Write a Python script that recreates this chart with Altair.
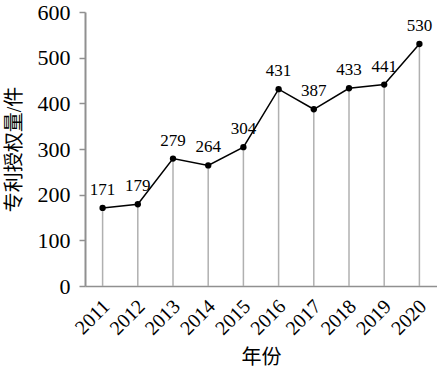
import altair as alt
import pandas as pd

years = ["2011", "2012", "2013", "2014", "2015", "2016", "2017", "2018", "2019", "2020"]
values = [171, 179, 279, 264, 304, 431, 387, 433, 441, 530]

df = pd.DataFrame({"year": years, "value": values})

FONT = "Liberation Serif, Times New Roman, Noto Sans CJK SC"

x = alt.X("year:N", sort=years, title="年份",
          scale=alt.Scale(paddingInner=0, paddingOuter=0),
          axis=alt.Axis(labelAngle=-45, labelAlign="right", labelBaseline="middle",
                        labelFontSize=20, labelFont=FONT, labelColor="black",
                        labelPadding=17, labelOffset=4, ticks=False, domainColor="#909090",
                        domainWidth=1.5, titleFont=FONT, titleFontSize=20,
                        titleFontWeight="normal", titleColor="black", titlePadding=9))
y = alt.Y("value:Q", title="专利授权量/件",
          scale=alt.Scale(domain=[0, 600]),
          axis=alt.Axis(values=[0, 100, 200, 300, 400, 500, 600], grid=False,
                        labelFontSize=22, labelFont=FONT, labelColor="black",
                        labelPadding=9, tickSize=6, tickColor="#909090", tickWidth=1.5,
                        domainColor="#909090", domainWidth=2,
                        titleFont=FONT, titleFontSize=20, titleFontWeight="normal",
                        titleColor="black", titlePadding=13))

base = alt.Chart(df)

rules = base.mark_rule(color="#b0b0b0", strokeWidth=1.5).encode(
    x=x, y=alt.Y("value:Q", scale=alt.Scale(domain=[0, 600])), y2=alt.datum(0))
line = base.mark_line(color="black", strokeWidth=1.5).encode(x=x, y=y)
points = base.mark_point(filled=True, color="black", size=40, opacity=1).encode(x=x, y=y)
labels = base.mark_text(dy=-18, font=FONT, fontSize=17, color="black").encode(
    x=x, y=y, text="value:Q")

chart = alt.layer(rules, line, points, labels).properties(
    width=352, height=274,
    padding={"left": 85, "top": 12, "right": 0, "bottom": 94},
    autosize=alt.AutoSizeParams(type="none"),
).configure_view(stroke=None)

chart.save("out.html", embed_options={"renderer": "svg", "actions": False})
